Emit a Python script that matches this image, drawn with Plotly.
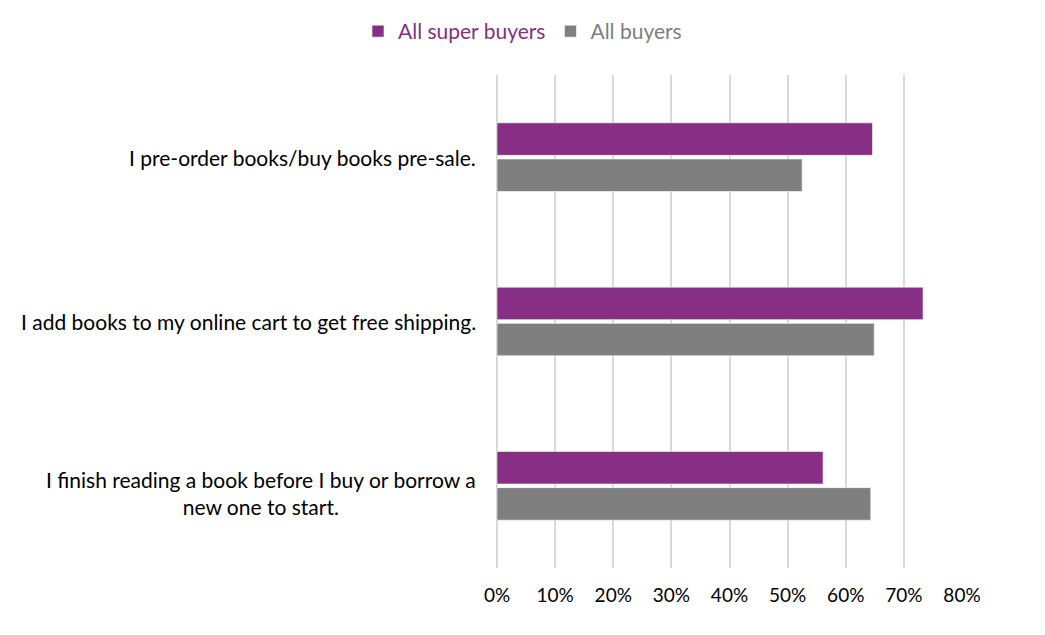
import plotly.graph_objects as go

# survey statements, top to bottom
statements = [
    "I pre-order books/buy books pre-sale.",
    "I add books to my online cart to get free shipping.",
    "I finish reading a book before I buy or borrow a<br>new one to start.",
]
super_buyers = [0.646, 0.733, 0.561]
all_buyers = [0.525, 0.649, 0.643]

series_names = ["All super buyers", "All buyers"]
series_colors = ["#862F85", "#7F7F7F"]
tick_vals = [0, 0.1, 0.2, 0.3, 0.4, 0.5, 0.6, 0.7, 0.8]

fig = go.Figure()

for name, vals, col in zip(series_names, [super_buyers, all_buyers], series_colors):
    fig.add_trace(go.Bar(
        y=statements,
        x=vals,
        orientation="h",
        name="<span style='color:%s'>%s</span>" % (col, name),
        marker=dict(color=col, line=dict(color="rgba(255,255,255,0.6)", width=1)),
        hovertemplate=name + ": %{x:.0%}<extra></extra>",
    ))

# category labels as annotations so the wrapped one can be centred
for s in statements:
    wrapped = "<br>" in s
    fig.add_annotation(
        x=0, xref="paper", y=s, yref="y",
        text=s, showarrow=False,
        xanchor="right", xshift=-19, align="center",
        yshift=-7 if wrapped else 0,
        font=dict(family="Lato, sans-serif", size=21, color="#000000"),
    )

# page body has an 8px margin, so the figure is sized to fit inside it
fig.update_layout(
    width=1029, height=619,
    margin=dict(l=489, r=75, t=67, b=59),
    plot_bgcolor="white", paper_bgcolor="white",
    barmode="group",
    bargap=0.56, bargroupgap=0.1,
    font=dict(family="Lato, sans-serif", size=19, color="#000000"),
    showlegend=True,
    legend=dict(
        orientation="h",
        xref="container", yref="container",
        x=0.5, xanchor="center",
        y=0.962, yanchor="middle",
        font=dict(size=21),
        itemwidth=30,
    ),
    xaxis=dict(
        range=[0, 0.8],
        tickvals=tick_vals,
        tickformat=".0%",
        showgrid=True, gridcolor="#D9D9D9", gridwidth=1.5,
        zeroline=True, zerolinecolor="#D9D9D9", zerolinewidth=1.5,
        showline=False,
        ticks="",
        ticklabelstandoff=14,
        tickfont=dict(size=19),
        fixedrange=True,
    ),
    yaxis=dict(
        autorange="reversed",
        showticklabels=False,
        showgrid=False,
        showline=False,
        ticks="",
        fixedrange=True,
    ),
)

fig.write_html("out.html")
